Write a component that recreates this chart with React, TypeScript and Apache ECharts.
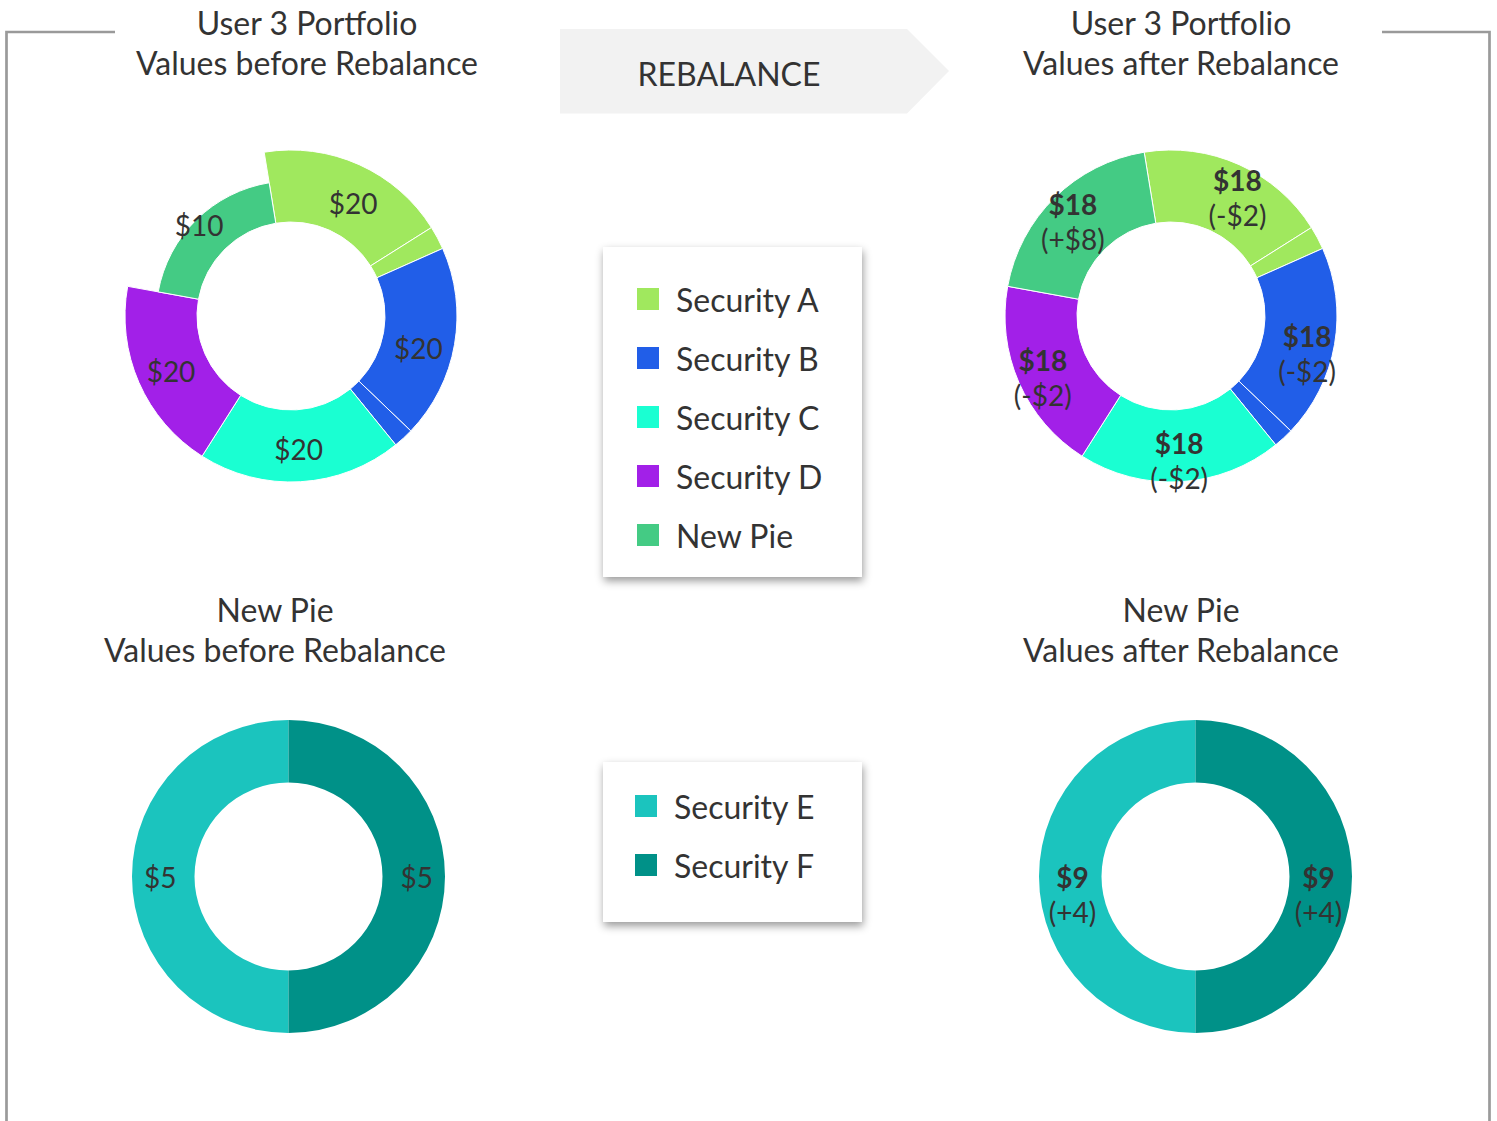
import React, { useEffect, useRef } from "react";
import * as echarts from "echarts";

// ---------- data ----------
const TOP_SECURITIES = ["Security A", "Security B", "Security C", "Security D", "New Pie"];
const TOP_COLORS = ["#A0E85E", "#215EE8", "#1AFFD2", "#A220E8", "#44CB84"];
const BEFORE_VALUES = [20, 20, 20, 20, 10];
const AFTER_VALUES = [18, 18, 18, 18, 18];
const AFTER_CHANGES = ["-$2", "-$2", "-$2", "-$2", "+$8"];
// donut pieces as drawn (owner security index and angular span in degrees)
const PIECE_OWNER = [0, 0, 1, 1, 2, 3, 4];
const PIECE_SPAN = [67.1, 8.2, 67.8, 7.1, 71.5, 67.9, 70.4];

const BOTTOM_SECURITIES = ["Security E", "Security F"];
const BOTTOM_COLORS = ["#1BC4BE", "#009188"];
const NEWPIE_BEFORE = [5, 5];
const NEWPIE_AFTER = [9, 9];
const NEWPIE_CHANGES = ["+4", "+4"];

const TITLES = [
  "User 3 Portfolio\nValues before Rebalance",
  "User 3 Portfolio\nValues after Rebalance",
  "New Pie\nValues before Rebalance",
  "New Pie\nValues after Rebalance",
];

const FONT = "Lato";
const TEXT = "#333333";

const RICH = {
  v: { fontFamily: FONT, fontSize: 28, fontWeight: "bold", color: TEXT, lineHeight: 35 },
  d: { fontFamily: FONT, fontSize: 28, color: TEXT, lineHeight: 35 },
};

function labelText(values: number[], changes: string[] | null, k: number) {
  return changes ? `{v|$${values[k]}}\n{d|(${changes[k]})}` : `$${values[k]}`;
}

function topDonut(center: number[], values: number[], changes: string[] | null, r0: number, R: number, labelR: number, shift: number) {
  const max = Math.max(...values);
  const radii = values.map((v) => Math.round(Math.sqrt(r0 * r0 + (v / max) * (R * R - r0 * r0))));
  const unique = Array.from(new Set(radii));
  const series: any[] = unique.map((rad) => ({
    type: "pie",
    silent: true,
    center,
    radius: [r0, rad],
    startAngle: 99.3,
    clockwise: true,
    label: { show: false },
    labelLine: { show: false },
    data: PIECE_SPAN.map((s, i) => {
      const k = PIECE_OWNER[i];
      const vis = radii[k] === rad;
      return {
        name: TOP_SECURITIES[k],
        value: s,
        itemStyle: vis
          ? { color: TOP_COLORS[k], borderColor: "#ffffff", borderWidth: 1 }
          : { color: "rgba(0,0,0,0)", borderWidth: 0 },
      };
    }),
  }));
  series.push({
    type: "pie",
    silent: true,
    center,
    radius: [r0, labelR],
    startAngle: 99.3,
    clockwise: true,
    z: 5,
    labelLine: { show: false },
    itemStyle: { color: "rgba(0,0,0,0)", borderWidth: 0 },
    label: {
      show: true,
      position: "inside",
      fontFamily: FONT,
      fontSize: 28,
      color: TEXT,
      padding: [shift * 2, 0, 0, 0],
      rich: RICH,
    },
    data: TOP_SECURITIES.map((name, k) => ({
      name,
      value: PIECE_SPAN.reduce((a, s, i) => (PIECE_OWNER[i] === k ? a + s : a), 0),
      label: { formatter: labelText(values, changes, k) },
    })),
  });
  return series;
}

function bottomDonut(center: number[], values: number[], changes: string[] | null, labelR: number) {
  const base = {
    type: "pie",
    silent: true,
    center,
    startAngle: -90,
    clockwise: true,
    labelLine: { show: false },
  };
  return [
    {
      ...base,
      radius: [94, 156.5],
      label: { show: false },
      data: BOTTOM_SECURITIES.map((name, k) => ({
        name,
        value: values[k],
        itemStyle: { color: BOTTOM_COLORS[k], borderWidth: 0 },
      })),
    },
    {
      ...base,
      z: 5,
      radius: [94, labelR],
      itemStyle: { color: "rgba(0,0,0,0)", borderWidth: 0 },
      label: {
        show: true,
        position: "inside",
        fontFamily: FONT,
        fontSize: 28,
        color: TEXT,
        padding: changes ? [35, 0, 0, 0] : 0,
        rich: RICH,
      },
      data: BOTTOM_SECURITIES.map((name, k) => ({
        name,
        value: values[k],
        label: { formatter: labelText(values, changes, k) },
      })),
    },
  ];
}

export default function App() {
  const ref = useRef<HTMLDivElement>(null);
  useEffect(() => {
    document.body.style.margin = "0";
    const chart = echarts.init(ref.current!, null, { renderer: "svg", width: 1497, height: 1121 });
    const titleText = (text: string, x: number, y: number) => ({
      type: "text",
      x,
      y,
      z: 1,
      style: {
        text,
        fill: TEXT,
        fontFamily: FONT,
        fontSize: 32,
        lineHeight: 40,
        textAlign: "center",
        textVerticalAlign: "middle",
      },
    });
    const legendStyle = {
      orient: "vertical",
      icon: "rect",
      itemWidth: 22,
      itemHeight: 22,
      padding: 0,
      selectedMode: false,
      textStyle: { fontFamily: FONT, fontSize: 32, color: TEXT, lineHeight: 32, padding: [0, 0, 0, 12] },
    };
    const boxStyle = { fill: "#ffffff", shadowBlur: 8, shadowOffsetX: 1, shadowOffsetY: 4, shadowColor: "rgba(0,0,0,0.4)" };
    chart.setOption({
      animation: false,
      backgroundColor: "#ffffff",
      graphic: [
        { type: "polyline", z: 0, shape: { points: [[115, 32], [6.5, 32], [6.5, 1121]] }, style: { fill: null, stroke: "#9a9a9a", lineWidth: 2.7 } },
        { type: "polyline", z: 0, shape: { points: [[1382, 32], [1489.5, 32], [1489.5, 1121]] }, style: { fill: null, stroke: "#9a9a9a", lineWidth: 2.7 } },
        { type: "polygon", z: 0, shape: { points: [[560, 29], [907, 29], [949, 71], [907, 113.5], [560, 113.5]] }, style: { fill: "#f2f2f2" } },
        { type: "text", z: 1, x: 729, y: 73.5, style: { text: "REBALANCE", fill: TEXT, fontFamily: FONT, fontSize: 32, textAlign: "center", textVerticalAlign: "middle" } },
        titleText(TITLES[0], 307, 42),
        titleText(TITLES[1], 1181, 42),
        titleText(TITLES[2], 275, 629),
        titleText(TITLES[3], 1181, 629),
        { type: "rect", z: 0, shape: { x: 603, y: 247, width: 259, height: 330 }, style: boxStyle },
        { type: "rect", z: 0, shape: { x: 603, y: 762, width: 259, height: 160 }, style: boxStyle },
      ],
      legend: [
        {
          ...legendStyle,
          left: 637,
          top: 283,
          itemGap: 27,
          data: TOP_SECURITIES.map((name, k) => ({ name, itemStyle: { color: TOP_COLORS[k], borderWidth: 0 } })),
        },
        {
          ...legendStyle,
          left: 635,
          top: 790,
          itemGap: 27,
          data: BOTTOM_SECURITIES.map((name, k) => ({ name, itemStyle: { color: BOTTOM_COLORS[k], borderWidth: 0 } })),
        },
      ],
      series: [
        ...topDonut([291, 316], BEFORE_VALUES, null, 94, 166, 162, 2),
        ...topDonut([1171, 316], AFTER_VALUES, AFTER_CHANGES, 94, 166, 180, 5),
        ...bottomDonut([288.5, 876.5], NEWPIE_BEFORE, null, 156.5),
        ...bottomDonut([1195.5, 876.5], NEWPIE_AFTER, NEWPIE_CHANGES, 146),
      ],
    });
    return () => chart.dispose();
  }, []);
  return <div ref={ref} style={{ position: "absolute", left: 0, top: 0, width: 1497, height: 1121 }} />;
}
